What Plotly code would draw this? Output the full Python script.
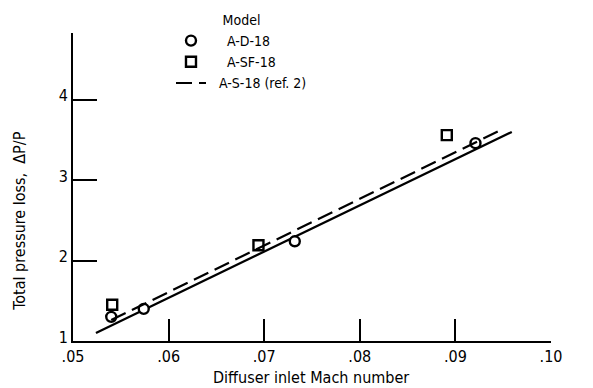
import plotly.graph_objects as go

# Data
ad_x = [0.0540, 0.0574, 0.0732, 0.0921]
ad_y = [1.30, 1.40, 2.24, 3.46]
sf_x = [0.0541, 0.0694, 0.0891]
sf_y = [1.45, 2.19, 3.56]
fit_x = [0.0524, 0.0959]
fit_y = [1.10, 3.60]
ref_x = [0.0540, 0.0947]
ref_y = [1.26, 3.62]
x_ticks = [0.05, 0.06, 0.07, 0.08, 0.09, 0.10]
x_tick_text = [".05", ".06", ".07", ".08", ".09", ".10"]
y_ticks = [1, 2, 3, 4]

FONT = "Liberation Sans Narrow, DejaVu Sans Condensed, Arial Narrow, sans-serif"

fig = go.Figure()
fig.add_trace(go.Scatter(x=fit_x, y=fit_y, mode="lines", showlegend=False,
                         line=dict(color="black", width=2.2)))
fig.add_trace(go.Scatter(x=ad_x, y=ad_y, mode="markers", name="    A-D-18",
                         marker=dict(symbol="circle", size=10, color="white",
                                     line=dict(color="black", width=2.4))))
fig.add_trace(go.Scatter(x=sf_x, y=sf_y, mode="markers", name="    A-SF-18",
                         marker=dict(symbol="square", size=10, color="white",
                                     line=dict(color="black", width=2.4))))
fig.add_trace(go.Scatter(x=ref_x, y=ref_y, mode="lines", name="  A-S-18 (ref. 2)",
                         line=dict(color="black", width=2.2, dash="16px,7px")))

fig.update_layout(
    width=593, height=388,
    margin=dict(l=73, r=42, t=33, b=47, autoexpand=False),
    paper_bgcolor="white", plot_bgcolor="white",
    font=dict(family=FONT, size=16, color="black"),
    showlegend=True,
    legend=dict(x=0.205, y=1.085, xanchor="left", yanchor="top",
                bgcolor="rgba(0,0,0,0)", font=dict(size=14),
                title=dict(text="Model", side="top center", font=dict(size=14)),
                tracegroupgap=0, itemwidth=30),
    xaxis=dict(range=[0.05, 0.10], tickvals=x_ticks, ticktext=x_tick_text,
               showgrid=False, zeroline=False, showline=True, linecolor="black",
               linewidth=2, ticks="inside", ticklen=22, tickwidth=2,
               tickcolor="black", mirror=False),
    yaxis=dict(range=[1, 4.83], tickvals=y_ticks, showgrid=False, zeroline=False,
               showline=True, linecolor="black", linewidth=2, ticks="inside",
               ticklen=24, tickwidth=2, tickcolor="black", mirror=False,
               ticklabelshift=-4),
    annotations=[
        dict(text="Diffuser inlet Mach number", xref="paper", yref="paper",
             x=0.497, y=-0.12, xanchor="center", yanchor="middle",
             showarrow=False, font=dict(size=16)),
        dict(text="Total pressure loss,  \u0394P/P", xref="paper", yref="paper",
             x=-0.111, y=0.39, xanchor="center", yanchor="middle",
             textangle=-90, showarrow=False, font=dict(size=16)),
    ],
)

fig.write_html("out.html")
